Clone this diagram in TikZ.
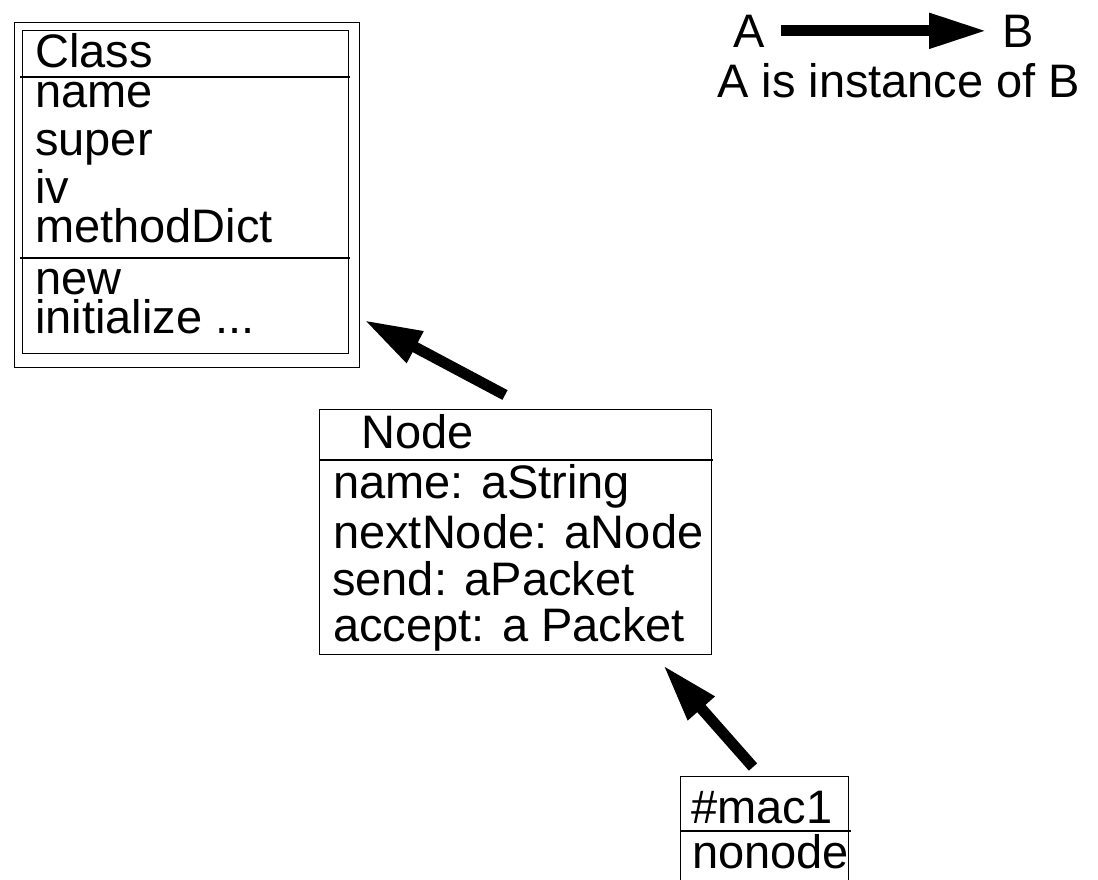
\documentclass[tikz,border=0pt]{standalone}
\usepackage{fontspec}
\setmainfont{Liberation Sans}
\usetikzlibrary{arrows.meta, positioning}

\tikzset{
  box/.style={draw, line width=1.3pt, inner sep=0pt, anchor=north west},
  rule/.style={line width=1.3pt},
  txt/.style={anchor=base west, inner sep=0pt},
  instof/.style={line width=11pt, -{Triangle[length=58pt,width=33pt]}}
}

\begin{document}
\begin{tikzpicture}[x=1pt,y=-1pt,font=\fontsize{47}{56}\selectfont]
\useasboundingbox (0,0) rectangle (1098,879);
\clip (0,0) rectangle (1098,879);
% the class Class
\node[box, minimum width=345pt, minimum height=345pt] (classout) at (14,22) {};
\node[box, minimum width=326pt, minimum height=323pt] (classbox) at (22,30) {};
\draw[rule] (20,77) -- (350,77);
\draw[rule] (20,258) -- (350,258);
\node[txt] (classtitle) at (35,67) {Class};
\node[txt] (classname) at (35,107) {name};
\node[txt] (classsuper) at (35,155) {super};
\node[txt] (classiv) at (35,203) {iv};
\node[txt] (classdict) at (35,242) {methodDict};
\node[txt] (classnew) at (35,294) {new};
\node[txt] (classinit) at (35,333) {initialize ...};
% the class Node
\node[box, minimum width=392pt, minimum height=245pt] (nodebox) at (319,409) {};
\draw[rule] (319,460) -- (713,460);
\node[txt] (nodetitle) at (361,448) {Node};
\node[txt] (nodename) at (333,498) {name: aString};
\node[txt] (nodenext) at (333,548) {nextNode: aNode};
\node[txt] (nodesend) at (332,595) {send: aPacket};
\node[txt] (nodeaccept) at (333,641) {accept: a Packet};
% the instance #mac1
\node[box, minimum width=168pt, minimum height=120pt] (macbox) at (680,776) {};
\draw[rule] (680,831) -- (851,831);
\node[txt] (macname) at (691,823) {\#mac1};
\node[txt] (macnext) at (692,868) {nonode};
% instance-of arrows
\coordinate (nodetail) at (505,395);
\coordinate (classtip) at (364,320);
\coordinate (mactail) at (753,767);
\coordinate (nodetip) at (663,665);
\draw[instof] (nodetail) -- (classtip);
\draw[instof] (mactail) -- (nodetip);
% legend
\node[txt] (legA) at (733,47) {A};
\node[txt] (legB) at (1002,47) {B};
\node[txt] (legtext) at (717,97) {A is instance of B};
\draw[instof] ([xshift=16pt]legA.east) -- ([xshift=-15pt]legB.west);
\end{tikzpicture}
\end{document}
